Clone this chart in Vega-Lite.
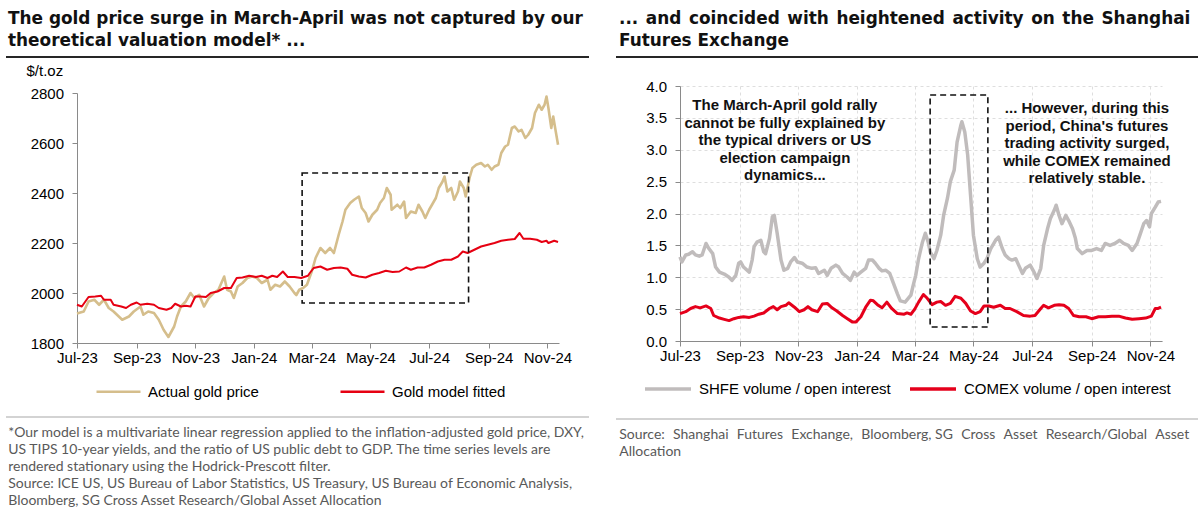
{
  "$schema": "https://vega.github.io/schema/vega-lite/v6.json",
  "background": "white",
  "padding": {"left": 5, "top": 10, "right": 5, "bottom": 5},
  "config": {
    "view": {"stroke": null},
    "font": "Liberation Sans",
    "axis": {
      "labelFont": "Liberation Sans", "labelFontSize": 15, "labelColor": "#000",
      "domainColor": "#8a8a8a", "domainWidth": 1, "tickColor": "#8a8a8a", "tickSize": 5,
      "grid": false, "titleFont": "Liberation Sans", "titleFontSize": 15,
      "titleFontWeight": "normal", "titleColor": "#000", "labelOverlap": false
    },
    "axisX": {"labelPadding": 2},
    "axisY": {"labelPadding": 8.5},
    "legend": {
      "labelFont": "Liberation Sans", "labelFontSize": 15, "labelColor": "#000",
      "labelOffset": 6, "padding": 0, "symbolType": "stroke", "labelLimit": 400
    },
    "title": {"anchor": "start", "font": "DejaVu Sans", "color": "#111"}
  },
  "resolve": {"scale": {"color": "independent"}, "legend": {"color": "independent"}},
  "datasets": {
    "price": [
      {"date": "2023-07-01", "value": 1918}, {"date": "2023-07-08", "value": 1926}, {"date": "2023-07-13", "value": 1966},
      {"date": "2023-07-19", "value": 1973}, {"date": "2023-07-24", "value": 1953}, {"date": "2023-07-29", "value": 1973},
      {"date": "2023-08-03", "value": 1940}, {"date": "2023-08-08", "value": 1926}, {"date": "2023-08-17", "value": 1893},
      {"date": "2023-08-24", "value": 1906}, {"date": "2023-08-29", "value": 1926}, {"date": "2023-09-05", "value": 1946},
      {"date": "2023-09-08", "value": 1913}, {"date": "2023-09-13", "value": 1926}, {"date": "2023-09-19", "value": 1920},
      {"date": "2023-09-24", "value": 1893}, {"date": "2023-09-29", "value": 1853}, {"date": "2023-10-04", "value": 1824},
      {"date": "2023-10-10", "value": 1866}, {"date": "2023-10-13", "value": 1906}, {"date": "2023-10-17", "value": 1946},
      {"date": "2023-10-22", "value": 1966}, {"date": "2023-10-27", "value": 2000}, {"date": "2023-10-31", "value": 1980},
      {"date": "2023-11-05", "value": 1993}, {"date": "2023-11-10", "value": 1946}, {"date": "2023-11-15", "value": 1980},
      {"date": "2023-11-20", "value": 2000}, {"date": "2023-11-25", "value": 2013}, {"date": "2023-12-01", "value": 2066},
      {"date": "2023-12-04", "value": 2013}, {"date": "2023-12-08", "value": 2006}, {"date": "2023-12-11", "value": 1980},
      {"date": "2023-12-15", "value": 2026}, {"date": "2023-12-20", "value": 2040}, {"date": "2023-12-25", "value": 2060},
      {"date": "2023-12-30", "value": 2066}, {"date": "2024-01-04", "value": 2060}, {"date": "2024-01-09", "value": 2040},
      {"date": "2024-01-15", "value": 2053}, {"date": "2024-01-18", "value": 2013}, {"date": "2024-01-23", "value": 2033},
      {"date": "2024-01-28", "value": 2026}, {"date": "2024-02-02", "value": 2046}, {"date": "2024-02-07", "value": 2026},
      {"date": "2024-02-12", "value": 2000}, {"date": "2024-02-14", "value": 1992}, {"date": "2024-02-17", "value": 2013},
      {"date": "2024-02-21", "value": 2020}, {"date": "2024-02-25", "value": 2033}, {"date": "2024-03-01", "value": 2086},
      {"date": "2024-03-05", "value": 2140}, {"date": "2024-03-10", "value": 2180}, {"date": "2024-03-15", "value": 2160},
      {"date": "2024-03-20", "value": 2180}, {"date": "2024-03-24", "value": 2160}, {"date": "2024-03-29", "value": 2233},
      {"date": "2024-04-02", "value": 2286}, {"date": "2024-04-05", "value": 2333}, {"date": "2024-04-10", "value": 2360},
      {"date": "2024-04-14", "value": 2373}, {"date": "2024-04-19", "value": 2386}, {"date": "2024-04-22", "value": 2340},
      {"date": "2024-04-26", "value": 2320}, {"date": "2024-04-29", "value": 2286}, {"date": "2024-05-03", "value": 2313},
      {"date": "2024-05-08", "value": 2333}, {"date": "2024-05-11", "value": 2360}, {"date": "2024-05-15", "value": 2380},
      {"date": "2024-05-18", "value": 2420}, {"date": "2024-05-22", "value": 2393}, {"date": "2024-05-23", "value": 2333},
      {"date": "2024-05-29", "value": 2353}, {"date": "2024-06-01", "value": 2340}, {"date": "2024-06-05", "value": 2366},
      {"date": "2024-06-07", "value": 2300}, {"date": "2024-06-12", "value": 2326}, {"date": "2024-06-17", "value": 2320},
      {"date": "2024-06-20", "value": 2353}, {"date": "2024-06-24", "value": 2326}, {"date": "2024-06-27", "value": 2300},
      {"date": "2024-07-01", "value": 2333}, {"date": "2024-07-04", "value": 2353}, {"date": "2024-07-08", "value": 2380},
      {"date": "2024-07-11", "value": 2420}, {"date": "2024-07-15", "value": 2446}, {"date": "2024-07-17", "value": 2466},
      {"date": "2024-07-20", "value": 2406}, {"date": "2024-07-24", "value": 2420}, {"date": "2024-07-27", "value": 2373},
      {"date": "2024-07-31", "value": 2406}, {"date": "2024-08-02", "value": 2446}, {"date": "2024-08-06", "value": 2420},
      {"date": "2024-08-08", "value": 2386}, {"date": "2024-08-12", "value": 2460}, {"date": "2024-08-15", "value": 2500},
      {"date": "2024-08-19", "value": 2513}, {"date": "2024-08-24", "value": 2520}, {"date": "2024-08-28", "value": 2506},
      {"date": "2024-08-31", "value": 2513}, {"date": "2024-09-04", "value": 2493}, {"date": "2024-09-07", "value": 2506},
      {"date": "2024-09-11", "value": 2513}, {"date": "2024-09-14", "value": 2560}, {"date": "2024-09-18", "value": 2586},
      {"date": "2024-09-21", "value": 2593}, {"date": "2024-09-25", "value": 2660}, {"date": "2024-09-28", "value": 2666},
      {"date": "2024-10-02", "value": 2646}, {"date": "2024-10-05", "value": 2653}, {"date": "2024-10-09", "value": 2620},
      {"date": "2024-10-12", "value": 2633}, {"date": "2024-10-16", "value": 2660}, {"date": "2024-10-19", "value": 2720},
      {"date": "2024-10-23", "value": 2753}, {"date": "2024-10-26", "value": 2733}, {"date": "2024-10-29", "value": 2753},
      {"date": "2024-10-31", "value": 2786}, {"date": "2024-11-02", "value": 2740}, {"date": "2024-11-05", "value": 2660},
      {"date": "2024-11-07", "value": 2706}, {"date": "2024-11-09", "value": 2660}, {"date": "2024-11-12", "value": 2593}
    ],
    "model": [
      {"date": "2023-07-01", "value": 1953}, {"date": "2023-07-06", "value": 1946}, {"date": "2023-07-13", "value": 1984},
      {"date": "2023-07-20", "value": 1986}, {"date": "2023-07-26", "value": 1989}, {"date": "2023-07-29", "value": 1973},
      {"date": "2023-08-05", "value": 1973}, {"date": "2023-08-08", "value": 1953}, {"date": "2023-08-16", "value": 1946},
      {"date": "2023-08-21", "value": 1940}, {"date": "2023-08-26", "value": 1953}, {"date": "2023-09-01", "value": 1962},
      {"date": "2023-09-05", "value": 1953}, {"date": "2023-09-12", "value": 1957}, {"date": "2023-09-19", "value": 1953},
      {"date": "2023-09-24", "value": 1940}, {"date": "2023-10-02", "value": 1933}, {"date": "2023-10-07", "value": 1940},
      {"date": "2023-10-11", "value": 1957}, {"date": "2023-10-17", "value": 1946}, {"date": "2023-10-22", "value": 1949},
      {"date": "2023-10-27", "value": 1946}, {"date": "2023-11-01", "value": 1986}, {"date": "2023-11-06", "value": 1986},
      {"date": "2023-11-12", "value": 1984}, {"date": "2023-11-17", "value": 2000}, {"date": "2023-11-24", "value": 2006},
      {"date": "2023-12-01", "value": 2020}, {"date": "2023-12-08", "value": 2020}, {"date": "2023-12-14", "value": 2060},
      {"date": "2023-12-20", "value": 2062}, {"date": "2023-12-27", "value": 2069}, {"date": "2024-01-03", "value": 2064},
      {"date": "2024-01-09", "value": 2069}, {"date": "2024-01-15", "value": 2060}, {"date": "2024-01-20", "value": 2069},
      {"date": "2024-01-25", "value": 2064}, {"date": "2024-01-31", "value": 2086}, {"date": "2024-02-05", "value": 2064},
      {"date": "2024-02-12", "value": 2064}, {"date": "2024-02-19", "value": 2060}, {"date": "2024-02-26", "value": 2069},
      {"date": "2024-02-28", "value": 2080}, {"date": "2024-03-03", "value": 2100}, {"date": "2024-03-10", "value": 2106},
      {"date": "2024-03-17", "value": 2093}, {"date": "2024-03-24", "value": 2100}, {"date": "2024-03-31", "value": 2102},
      {"date": "2024-04-07", "value": 2097}, {"date": "2024-04-12", "value": 2073}, {"date": "2024-04-19", "value": 2066},
      {"date": "2024-04-26", "value": 2062}, {"date": "2024-05-03", "value": 2073}, {"date": "2024-05-10", "value": 2080},
      {"date": "2024-05-17", "value": 2089}, {"date": "2024-05-24", "value": 2084}, {"date": "2024-05-31", "value": 2086},
      {"date": "2024-06-07", "value": 2102}, {"date": "2024-06-12", "value": 2093}, {"date": "2024-06-19", "value": 2102},
      {"date": "2024-06-26", "value": 2102}, {"date": "2024-07-03", "value": 2113}, {"date": "2024-07-10", "value": 2126},
      {"date": "2024-07-17", "value": 2133}, {"date": "2024-07-24", "value": 2133}, {"date": "2024-07-31", "value": 2146},
      {"date": "2024-08-05", "value": 2166}, {"date": "2024-08-10", "value": 2160}, {"date": "2024-08-17", "value": 2173},
      {"date": "2024-08-24", "value": 2186}, {"date": "2024-08-31", "value": 2193}, {"date": "2024-09-07", "value": 2200},
      {"date": "2024-09-14", "value": 2209}, {"date": "2024-09-21", "value": 2213}, {"date": "2024-09-28", "value": 2216},
      {"date": "2024-10-03", "value": 2240}, {"date": "2024-10-07", "value": 2217}, {"date": "2024-10-14", "value": 2217},
      {"date": "2024-10-21", "value": 2213}, {"date": "2024-10-26", "value": 2204}, {"date": "2024-10-31", "value": 2209},
      {"date": "2024-11-02", "value": 2200}, {"date": "2024-11-08", "value": 2209}, {"date": "2024-11-12", "value": 2204}
    ],
    "shfe": [
      {"date": "2023-07-01", "value": 1.32}, {"date": "2023-07-03", "value": 1.24}, {"date": "2023-07-07", "value": 1.35},
      {"date": "2023-07-10", "value": 1.36}, {"date": "2023-07-14", "value": 1.40}, {"date": "2023-07-17", "value": 1.35},
      {"date": "2023-07-21", "value": 1.33}, {"date": "2023-07-24", "value": 1.35}, {"date": "2023-07-28", "value": 1.53},
      {"date": "2023-07-31", "value": 1.45}, {"date": "2023-08-04", "value": 1.37}, {"date": "2023-08-07", "value": 1.16},
      {"date": "2023-08-11", "value": 1.08}, {"date": "2023-08-16", "value": 1.05}, {"date": "2023-08-21", "value": 1.00},
      {"date": "2023-08-24", "value": 0.95}, {"date": "2023-08-28", "value": 1.03}, {"date": "2023-08-31", "value": 1.22},
      {"date": "2023-09-02", "value": 1.24}, {"date": "2023-09-05", "value": 1.16}, {"date": "2023-09-11", "value": 1.08},
      {"date": "2023-09-14", "value": 1.27}, {"date": "2023-09-16", "value": 1.48}, {"date": "2023-09-19", "value": 1.55},
      {"date": "2023-09-23", "value": 1.58}, {"date": "2023-09-26", "value": 1.40}, {"date": "2023-09-28", "value": 1.37},
      {"date": "2023-10-02", "value": 1.61}, {"date": "2023-10-05", "value": 1.95}, {"date": "2023-10-07", "value": 1.97},
      {"date": "2023-10-10", "value": 1.69}, {"date": "2023-10-14", "value": 1.27}, {"date": "2023-10-17", "value": 1.11},
      {"date": "2023-10-21", "value": 1.14}, {"date": "2023-10-24", "value": 1.24}, {"date": "2023-10-28", "value": 1.31},
      {"date": "2023-10-31", "value": 1.24}, {"date": "2023-11-05", "value": 1.22}, {"date": "2023-11-10", "value": 1.16},
      {"date": "2023-11-15", "value": 1.14}, {"date": "2023-11-19", "value": 1.15}, {"date": "2023-11-22", "value": 1.06},
      {"date": "2023-11-28", "value": 1.11}, {"date": "2023-12-01", "value": 1.03}, {"date": "2023-12-05", "value": 1.14},
      {"date": "2023-12-10", "value": 1.19}, {"date": "2023-12-13", "value": 1.16}, {"date": "2023-12-17", "value": 1.06},
      {"date": "2023-12-22", "value": 1.00}, {"date": "2023-12-25", "value": 0.95}, {"date": "2023-12-29", "value": 1.08},
      {"date": "2024-01-01", "value": 1.03}, {"date": "2024-01-05", "value": 1.08}, {"date": "2024-01-10", "value": 1.14},
      {"date": "2024-01-13", "value": 1.27}, {"date": "2024-01-17", "value": 1.27}, {"date": "2024-01-20", "value": 1.22},
      {"date": "2024-01-24", "value": 1.14}, {"date": "2024-01-27", "value": 1.10}, {"date": "2024-01-31", "value": 1.11},
      {"date": "2024-02-04", "value": 1.06}, {"date": "2024-02-08", "value": 0.90}, {"date": "2024-02-12", "value": 0.74},
      {"date": "2024-02-15", "value": 0.63}, {"date": "2024-02-20", "value": 0.61}, {"date": "2024-02-26", "value": 0.72},
      {"date": "2024-02-28", "value": 0.85}, {"date": "2024-03-02", "value": 1.03}, {"date": "2024-03-05", "value": 1.29},
      {"date": "2024-03-09", "value": 1.55}, {"date": "2024-03-12", "value": 1.69}, {"date": "2024-03-15", "value": 1.55},
      {"date": "2024-03-17", "value": 1.40}, {"date": "2024-03-21", "value": 1.29}, {"date": "2024-03-24", "value": 1.42},
      {"date": "2024-03-28", "value": 1.66}, {"date": "2024-03-31", "value": 1.97}, {"date": "2024-04-04", "value": 2.24},
      {"date": "2024-04-07", "value": 2.50}, {"date": "2024-04-11", "value": 2.68}, {"date": "2024-04-14", "value": 3.12},
      {"date": "2024-04-18", "value": 3.39}, {"date": "2024-04-19", "value": 3.44}, {"date": "2024-04-22", "value": 3.28},
      {"date": "2024-04-25", "value": 2.92}, {"date": "2024-04-28", "value": 2.29}, {"date": "2024-05-01", "value": 1.66},
      {"date": "2024-05-05", "value": 1.29}, {"date": "2024-05-08", "value": 1.16}, {"date": "2024-05-12", "value": 1.22},
      {"date": "2024-05-15", "value": 1.29}, {"date": "2024-05-19", "value": 1.45}, {"date": "2024-05-24", "value": 1.58},
      {"date": "2024-05-27", "value": 1.63}, {"date": "2024-05-31", "value": 1.45}, {"date": "2024-06-03", "value": 1.35},
      {"date": "2024-06-07", "value": 1.29}, {"date": "2024-06-10", "value": 1.27}, {"date": "2024-06-14", "value": 1.29},
      {"date": "2024-06-17", "value": 1.19}, {"date": "2024-06-21", "value": 1.06}, {"date": "2024-06-24", "value": 1.14},
      {"date": "2024-06-29", "value": 1.19}, {"date": "2024-07-03", "value": 1.08}, {"date": "2024-07-06", "value": 0.98},
      {"date": "2024-07-10", "value": 1.14}, {"date": "2024-07-13", "value": 1.50}, {"date": "2024-07-17", "value": 1.76},
      {"date": "2024-07-20", "value": 1.92}, {"date": "2024-07-24", "value": 2.05}, {"date": "2024-07-26", "value": 2.13},
      {"date": "2024-07-29", "value": 1.97}, {"date": "2024-08-01", "value": 1.84}, {"date": "2024-08-05", "value": 1.97},
      {"date": "2024-08-08", "value": 1.89}, {"date": "2024-08-12", "value": 1.76}, {"date": "2024-08-15", "value": 1.61},
      {"date": "2024-08-17", "value": 1.45}, {"date": "2024-08-22", "value": 1.37}, {"date": "2024-08-27", "value": 1.42},
      {"date": "2024-09-01", "value": 1.42}, {"date": "2024-09-06", "value": 1.45}, {"date": "2024-09-11", "value": 1.42},
      {"date": "2024-09-15", "value": 1.53}, {"date": "2024-09-20", "value": 1.50}, {"date": "2024-09-25", "value": 1.53},
      {"date": "2024-09-30", "value": 1.58}, {"date": "2024-10-04", "value": 1.53}, {"date": "2024-10-09", "value": 1.50},
      {"date": "2024-10-13", "value": 1.42}, {"date": "2024-10-18", "value": 1.53}, {"date": "2024-10-21", "value": 1.66},
      {"date": "2024-10-25", "value": 1.84}, {"date": "2024-10-28", "value": 1.89}, {"date": "2024-10-31", "value": 1.79},
      {"date": "2024-11-02", "value": 2.00}, {"date": "2024-11-06", "value": 2.10}, {"date": "2024-11-09", "value": 2.18},
      {"date": "2024-11-12", "value": 2.19}
    ],
    "comex": [
      {"date": "2023-07-01", "value": 0.43}, {"date": "2023-07-07", "value": 0.46}, {"date": "2023-07-12", "value": 0.51},
      {"date": "2023-07-17", "value": 0.54}, {"date": "2023-07-22", "value": 0.52}, {"date": "2023-07-28", "value": 0.55},
      {"date": "2023-08-02", "value": 0.51}, {"date": "2023-08-05", "value": 0.40}, {"date": "2023-08-11", "value": 0.36},
      {"date": "2023-08-16", "value": 0.34}, {"date": "2023-08-21", "value": 0.32}, {"date": "2023-08-26", "value": 0.35},
      {"date": "2023-08-31", "value": 0.37}, {"date": "2023-09-05", "value": 0.38}, {"date": "2023-09-11", "value": 0.37},
      {"date": "2023-09-16", "value": 0.39}, {"date": "2023-09-21", "value": 0.42}, {"date": "2023-09-26", "value": 0.44},
      {"date": "2023-10-02", "value": 0.51}, {"date": "2023-10-06", "value": 0.54}, {"date": "2023-10-10", "value": 0.49},
      {"date": "2023-10-14", "value": 0.54}, {"date": "2023-10-19", "value": 0.56}, {"date": "2023-10-22", "value": 0.60},
      {"date": "2023-10-28", "value": 0.53}, {"date": "2023-11-02", "value": 0.46}, {"date": "2023-11-07", "value": 0.49},
      {"date": "2023-11-11", "value": 0.54}, {"date": "2023-11-15", "value": 0.49}, {"date": "2023-11-21", "value": 0.46},
      {"date": "2023-11-26", "value": 0.58}, {"date": "2023-12-01", "value": 0.59}, {"date": "2023-12-06", "value": 0.52},
      {"date": "2023-12-11", "value": 0.47}, {"date": "2023-12-17", "value": 0.40}, {"date": "2023-12-22", "value": 0.35},
      {"date": "2023-12-27", "value": 0.30}, {"date": "2023-12-31", "value": 0.30}, {"date": "2024-01-05", "value": 0.38},
      {"date": "2024-01-10", "value": 0.53}, {"date": "2024-01-15", "value": 0.64}, {"date": "2024-01-18", "value": 0.63},
      {"date": "2024-01-23", "value": 0.56}, {"date": "2024-01-27", "value": 0.52}, {"date": "2024-02-01", "value": 0.61},
      {"date": "2024-02-06", "value": 0.51}, {"date": "2024-02-12", "value": 0.43}, {"date": "2024-02-19", "value": 0.42},
      {"date": "2024-02-22", "value": 0.44}, {"date": "2024-02-26", "value": 0.42}, {"date": "2024-03-01", "value": 0.50},
      {"date": "2024-03-05", "value": 0.61}, {"date": "2024-03-10", "value": 0.73}, {"date": "2024-03-14", "value": 0.67},
      {"date": "2024-03-19", "value": 0.57}, {"date": "2024-03-24", "value": 0.61}, {"date": "2024-03-28", "value": 0.62},
      {"date": "2024-04-02", "value": 0.56}, {"date": "2024-04-07", "value": 0.59}, {"date": "2024-04-12", "value": 0.70},
      {"date": "2024-04-18", "value": 0.67}, {"date": "2024-04-23", "value": 0.59}, {"date": "2024-04-28", "value": 0.47},
      {"date": "2024-05-03", "value": 0.43}, {"date": "2024-05-08", "value": 0.46}, {"date": "2024-05-12", "value": 0.55},
      {"date": "2024-05-17", "value": 0.55}, {"date": "2024-05-22", "value": 0.53}, {"date": "2024-05-29", "value": 0.56},
      {"date": "2024-06-03", "value": 0.51}, {"date": "2024-06-08", "value": 0.51}, {"date": "2024-06-15", "value": 0.46},
      {"date": "2024-06-22", "value": 0.40}, {"date": "2024-06-29", "value": 0.39}, {"date": "2024-07-04", "value": 0.40},
      {"date": "2024-07-10", "value": 0.51}, {"date": "2024-07-13", "value": 0.56}, {"date": "2024-07-18", "value": 0.52},
      {"date": "2024-07-24", "value": 0.56}, {"date": "2024-07-29", "value": 0.57}, {"date": "2024-08-03", "value": 0.56},
      {"date": "2024-08-08", "value": 0.51}, {"date": "2024-08-13", "value": 0.40}, {"date": "2024-08-19", "value": 0.38},
      {"date": "2024-08-26", "value": 0.38}, {"date": "2024-09-01", "value": 0.35}, {"date": "2024-09-08", "value": 0.38},
      {"date": "2024-09-15", "value": 0.38}, {"date": "2024-09-22", "value": 0.39}, {"date": "2024-09-29", "value": 0.39},
      {"date": "2024-10-06", "value": 0.36}, {"date": "2024-10-13", "value": 0.34}, {"date": "2024-10-20", "value": 0.35},
      {"date": "2024-10-27", "value": 0.36}, {"date": "2024-11-02", "value": 0.39}, {"date": "2024-11-06", "value": 0.51},
      {"date": "2024-11-09", "value": 0.51}, {"date": "2024-11-12", "value": 0.53}
    ]
  },
  "spacing": 25,
  "hconcat": [
    {
      "spacing": 0,
      "vconcat": [
        {
          "width": 583, "height": 6,
          "data": {"values": [{}]},
          "mark": {"type": "rule", "color": "#262626", "strokeWidth": 2},
          "encoding": {"y": {"datum": 1, "type": "quantitative", "scale": {"domain": [0, 1]}, "axis": null}},
          "title": {
            "text": ["The gold price surge in March-April was not captured by our", "theoretical valuation model* ..."],
            "dx": 3, "offset": 6, "fontSize": 16.9, "fontWeight": "bold", "lineHeight": 22
          }
        },
        {
          "spacing": 0,
          "hconcat": [
            {"width": 20, "height": 1, "data": {"values": []}, "mark": {"type": "point", "opacity": 0}},
            {
              "width": 482, "height": 250,
              "layer": [
                {
                  "data": {"name": "price"},
                  "mark": {"type": "line", "strokeWidth": 2.6, "strokeJoin": "round"},
                  "encoding": {
                    "x": {
                      "field": "date", "type": "temporal",
                      "scale": {"type": "utc", "domain": [{"year": 2023, "month": 7, "date": 1, "utc": true}, {"year": 2024, "month": 11, "date": 13, "utc": true}]},
                      "axis": {
                        "title": null, "format": "%b-%y", "labelFlush": false, "labelOverlap": false,
                        "values": [
                          {"year": 2023, "month": 7, "date": 1, "utc": true}, {"year": 2023, "month": 9, "date": 1, "utc": true},
                          {"year": 2023, "month": 11, "date": 1, "utc": true}, {"year": 2024, "month": 1, "date": 1, "utc": true},
                          {"year": 2024, "month": 3, "date": 1, "utc": true}, {"year": 2024, "month": 5, "date": 1, "utc": true},
                          {"year": 2024, "month": 7, "date": 1, "utc": true}, {"year": 2024, "month": 9, "date": 1, "utc": true},
                          {"year": 2024, "month": 11, "date": 1, "utc": true}
                        ]
                      }
                    },
                    "y": {
                      "field": "value", "type": "quantitative",
                      "scale": {"domain": [1800, 2800]},
                      "axis": {
                        "values": [1800, 2000, 2200, 2400, 2600, 2800], "format": "d", "labelOverlap": false,
                        "title": "$/t.oz", "titleAngle": 0, "titleX": -51, "titleY": -18,
                        "titleAlign": "left", "titleBaseline": "alphabetic"
                      }
                    },
                    "color": {
                      "datum": "Actual gold price",
                      "scale": {"domain": ["Actual gold price", "Gold model fitted"], "range": ["#D5BE8C", "#E60012"]},
                      "legend": {
                        "title": null, "orient": "none", "legendX": 89, "legendY": 311, "direction": "horizontal",
                        "columnPadding": 76, "symbolSize": 1936, "symbolStrokeWidth": 2.5
                      }
                    }
                  }
                },
                {
                  "data": {"name": "model"},
                  "mark": {"type": "line", "strokeWidth": 2, "strokeJoin": "round"},
                  "encoding": {
                    "x": {"field": "date", "type": "temporal"},
                    "y": {"field": "value", "type": "quantitative"},
                    "color": {"datum": "Gold model fitted"}
                  }
                },
                {
                  "data": {"values": [{}]},
                  "mark": {"type": "rect", "filled": false, "color": "#111", "strokeDash": [6, 4], "strokeWidth": 1.6},
                  "encoding": {
                    "x": {"datum": {"year": 2024, "month": 2, "date": 20, "utc": true}, "type": "temporal"},
                    "x2": {"datum": {"year": 2024, "month": 8, "date": 11, "utc": true}},
                    "y": {"datum": 2480, "type": "quantitative"},
                    "y2": {"datum": 1960}
                  }
                }
              ]
            }
          ]
        },
        {
          "width": 583, "height": 52,
          "data": {"values": [{}]},
          "mark": {"type": "rule", "color": "#c4c4c4", "strokeWidth": 1.5},
          "encoding": {"y": {"datum": 0, "type": "quantitative", "scale": {"domain": [0, 1]}, "axis": null}},
          "title": {
            "text": [
              "*Our model is a multivariate linear regression applied to the inflation-adjusted gold price, DXY,",
              "US TIPS 10-year yields, and the ratio of US public debt to GDP. The time series levels are",
              "rendered stationary using the Hodrick-Prescott filter.",
              "Source: ICE US, US Bureau of Labor Statistics, US Treasury, US Bureau of Economic Analysis,",
              "Bloomberg, SG Cross Asset Research/Global Asset Allocation"
            ],
            "orient": "bottom", "dx": 3, "offset": 8, "font": "Lato", "fontSize": 14, "fontWeight": "normal",
            "color": "#595959", "lineHeight": 17
          }
        }
      ]
    },
    {
      "spacing": 0,
      "vconcat": [
        {
          "width": 582, "height": 22,
          "data": {"values": [{}]},
          "mark": {"type": "rule", "color": "#262626", "strokeWidth": 2},
          "encoding": {"y": {"datum": 1, "type": "quantitative", "scale": {"domain": [0, 1]}, "axis": null}},
          "title": {
            "text": ["... \u200aand \u200acoincided \u200awith \u200aheightened \u200aactivity \u200aon \u200athe \u200aShanghai", "Futures Exchange"],
            "dx": 4, "offset": 6, "fontSize": 16.9, "fontWeight": "bold", "lineHeight": 22
          }
        },
        {
          "spacing": 0,
          "hconcat": [
            {"width": 29, "height": 1, "data": {"values": []}, "mark": {"type": "point", "opacity": 0}},
            {
              "width": 482, "height": 255,
              "encoding": {
                "y": {
                  "type": "quantitative",
                  "scale": {"domain": [0, 4]},
                  "axis": {
                    "values": [0, 0.5, 1, 1.5, 2, 2.5, 3, 3.5, 4], "format": ".1f", "title": null,
                    "labelOverlap": false, "grid": true, "gridColor": "#dedede", "gridDash": [3, 3]
                  }
                }
              },
              "layer": [
                {
                  "data": {"name": "shfe"},
                  "mark": {"type": "line", "strokeWidth": 3.5, "strokeJoin": "round"},
                  "encoding": {
                    "x": {
                      "field": "date", "type": "temporal",
                      "scale": {"type": "utc", "domain": [{"year": 2023, "month": 7, "date": 1, "utc": true}, {"year": 2024, "month": 11, "date": 13, "utc": true}]},
                      "axis": {
                        "title": null, "format": "%b-%y", "labelFlush": false, "labelOverlap": false,
                        "grid": true, "gridColor": "#dedede", "gridDash": [3, 3],
                        "values": [
                          {"year": 2023, "month": 7, "date": 1, "utc": true}, {"year": 2023, "month": 9, "date": 1, "utc": true},
                          {"year": 2023, "month": 11, "date": 1, "utc": true}, {"year": 2024, "month": 1, "date": 1, "utc": true},
                          {"year": 2024, "month": 3, "date": 1, "utc": true}, {"year": 2024, "month": 5, "date": 1, "utc": true},
                          {"year": 2024, "month": 7, "date": 1, "utc": true}, {"year": 2024, "month": 9, "date": 1, "utc": true},
                          {"year": 2024, "month": 11, "date": 1, "utc": true}
                        ]
                      }
                    },
                    "y": {"field": "value"},
                    "color": {
                      "datum": "SHFE volume / open interest",
                      "scale": {"domain": ["SHFE volume / open interest", "COMEX volume / open interest"], "range": ["#C0BCBC", "#E5001B"]},
                      "legend": {
                        "title": null, "orient": "none", "legendX": 27, "legendY": 307, "direction": "horizontal",
                        "columnPadding": 12, "symbolSize": 2116, "symbolStrokeWidth": 3.5
                      }
                    }
                  }
                },
                {
                  "data": {"name": "comex"},
                  "mark": {"type": "line", "strokeWidth": 3, "strokeJoin": "round"},
                  "encoding": {
                    "x": {"field": "date", "type": "temporal"},
                    "y": {"field": "value"},
                    "color": {"datum": "COMEX volume / open interest"}
                  }
                },
                {
                  "data": {"values": [{}]},
                  "mark": {"type": "rect", "filled": false, "color": "#111", "strokeDash": [6, 4], "strokeWidth": 1.6},
                  "encoding": {
                    "x": {"datum": {"year": 2024, "month": 3, "date": 17, "utc": true}, "type": "temporal"},
                    "x2": {"datum": {"year": 2024, "month": 5, "date": 16, "utc": true}},
                    "y": {"datum": 3.86},
                    "y2": {"datum": 0.22}
                  }
                },
                {
                  "data": {"values": [{}]},
                  "mark": {
                    "type": "text", "align": "center", "baseline": "top", "lineBreak": "\n",
                    "font": "Liberation Sans", "fontWeight": "bold", "fontSize": 15, "lineHeight": 17.5, "color": "#111",
                    "text": "The March-April gold rally\ncannot be fully explained by\nthe typical drivers or US\nelection campaign\ndynamics..."
                  },
                  "encoding": {
                    "x": {"datum": {"year": 2023, "month": 10, "date": 18, "utc": true}, "type": "temporal"},
                    "y": {"datum": 3.81}
                  }
                },
                {
                  "data": {"values": [{}]},
                  "mark": {
                    "type": "text", "align": "center", "baseline": "top", "lineBreak": "\n",
                    "font": "Liberation Sans", "fontWeight": "bold", "fontSize": 15, "lineHeight": 17.5, "color": "#111",
                    "text": "... However, during this\nperiod, China's futures\ntrading activity surged,\nwhile COMEX remained\nrelatively stable."
                  },
                  "encoding": {
                    "x": {"datum": {"year": 2024, "month": 8, "date": 27, "utc": true}, "type": "temporal"},
                    "y": {"datum": 3.76}
                  }
                }
              ]
            }
          ]
        },
        {
          "width": 582, "height": 56,
          "data": {"values": [{}]},
          "mark": {"type": "rule", "color": "#c4c4c4", "strokeWidth": 1.5},
          "encoding": {"y": {"datum": 0, "type": "quantitative", "scale": {"domain": [0, 1]}, "axis": null}},
          "title": {
            "text": [
              "Source: \u2004Shanghai \u2004Futures \u2004Exchange, \u2004Bloomberg, SG \u2004Cross \u2004Asset \u2004Research/Global \u2004Asset",
              "Allocation"
            ],
            "orient": "bottom", "dx": 4, "offset": 8, "font": "Lato", "fontSize": 14, "fontWeight": "normal",
            "color": "#595959", "lineHeight": 17
          }
        }
      ]
    }
  ]
}
